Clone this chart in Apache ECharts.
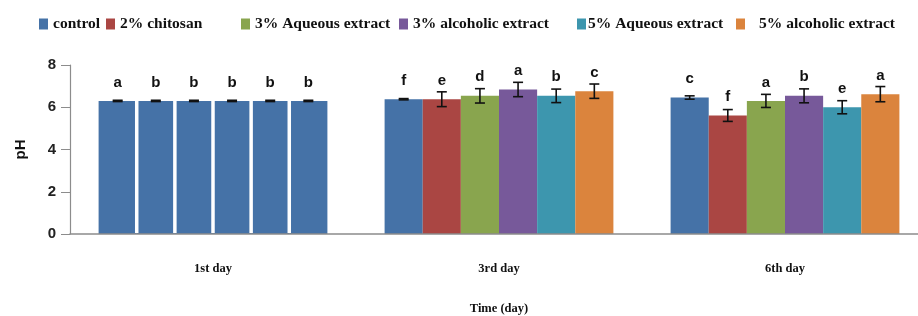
<!DOCTYPE html>
<html>
<head>
<meta charset="utf-8">
<script src="https://cdn.jsdelivr.net/npm/echarts@6/dist/echarts.min.js"></script>
<style>html,body{margin:0;padding:0;background:#fff}#c{width:918px;height:316px}</style>
</head>
<body>
<div id="c"></div>
<script>
const categories = ['1st day', '3rd day', '6th day'];
const seriesNames = ['control', '2% chitosan', '3% Aqueous extract', '3% alcoholic extract', '5% Aqueous extract', '5% alcoholic extract'];
const control     = [6.30, 6.38, 6.46];
const chitosan2   = [6.30, 6.38, 5.61];
const aqueous3    = [6.30, 6.54, 6.30];
const alcoholic3  = [6.30, 6.84, 6.54];
const aqueous5    = [6.30, 6.54, 6.00];
const alcoholic5  = [6.30, 6.76, 6.62];
const errControl    = [0.03, 0.03, 0.08];
const errChitosan2  = [0.03, 0.35, 0.28];
const errAqueous3   = [0.03, 0.34, 0.31];
const errAlcoholic3 = [0.03, 0.34, 0.33];
const errAqueous5   = [0.03, 0.32, 0.31];
const errAlcoholic5 = [0.03, 0.34, 0.36];
const lettersControl    = ['a', 'f', 'c'];
const lettersChitosan2  = ['b', 'e', 'f'];
const lettersAqueous3   = ['b', 'd', 'a'];
const lettersAlcoholic3 = ['b', 'a', 'b'];
const lettersAqueous5   = ['b', 'b', 'e'];
const lettersAlcoholic5 = ['b', 'c', 'a'];
const yTicks = [0, 8, 2];

const values = [control, chitosan2, aqueous3, alcoholic3, aqueous5, alcoholic5];
const errors = [errControl, errChitosan2, errAqueous3, errAlcoholic3, errAqueous5, errAlcoholic5];
const letters = [lettersControl, lettersChitosan2, lettersAqueous3, lettersAlcoholic3, lettersAqueous5, lettersAlcoholic5];
const colors = ['#4572A7', '#AA4643', '#89A54E', '#77599A', '#3D96AE', '#DB843D'];
const NS = seriesNames.length;
const CAT_GAP = 0.2;

const chart = echarts.init(document.getElementById('c'), null, {renderer: 'canvas'});

const series = [];
values.forEach((vals, s) => {
  series.push({
    type: 'bar',
    name: seriesNames[s],
    barGap: '0%',
    barCategoryGap: '20%',
    itemStyle: {color: colors[s]},
    data: vals.map((v, i) => i === 0 ? {value: v, itemStyle: {color: colors[0]}} : {value: v}),
    label: {
      show: true, position: 'top', distance: 11,
      formatter: p => letters[s][p.dataIndex],
      fontFamily: 'Liberation Sans', fontWeight: 'bold', fontSize: 15, color: '#111'
    },
    z: 2
  });
});
values.forEach((vals, s) => {
  series.push({
    type: 'custom',
    name: seriesNames[s] + ' err',
    z: 5,
    silent: true,
    data: vals.map((v, i) => [i, v, errors[s][i]]),
    renderItem: (params, api) => {
      const cat = api.value(0), v = api.value(1), e = api.value(2);
      const band = api.size([1, 0])[0];
      const groupW = band * (1 - CAT_GAP);
      const barW = groupW / NS;
      const c = api.coord([cat, v]);
      const left = c[0] - groupW / 2 + barW * s;
      const x = left + barW / 2;
      const yHi = api.coord([cat, v + e])[1];
      const yLo = api.coord([cat, v - e])[1];
      const y0 = api.coord([cat, 0])[1];
      const cap = 5;
      const st = {stroke: '#111', lineWidth: 1.6};
      const children = [];
      if (cat === 0 && s > 0) {
        children.push({type: 'line', z2: 1, shape: {x1: left, y1: c[1] - 1, x2: left, y2: y0 - 1}, style: {stroke: '#ffffff', lineWidth: 3.5}});
      }
      children.push(
        {type: 'line', z2: 2, shape: {x1: x, y1: yHi, x2: x, y2: yLo}, style: st},
        {type: 'line', z2: 2, shape: {x1: x - cap, y1: yHi, x2: x + cap, y2: yHi}, style: st},
        {type: 'line', z2: 2, shape: {x1: x - cap, y1: yLo, x2: x + cap, y2: yLo}, style: st}
      );
      return {type: 'group', children: children};
    }
  });
});

const legendLefts = [39, 106, 241, 399, 577, 736];
const legends = seriesNames.map((n, s) => ({
  data: [n], left: legendLefts[s], top: 16, icon: 'rect', itemWidth: 9, itemHeight: 11,
  padding: 0, selectedMode: false,
  textStyle: {fontFamily: 'Liberation Serif', fontWeight: 'bold', fontSize: 15.5, color: '#111',
    padding: s === 5 ? [0, 0, 0, 9] : (s === 4 ? [0, 0, 0, -3] : 0)}
}));

chart.setOption({
  animation: false,
  backgroundColor: '#ffffff',
  legend: legends,
  grid: {left: 70, top: 65, height: 169, width: 858, outerBoundsMode: 'none', containLabel: false},
  xAxis: {
    type: 'category', data: categories, z: 6,
    axisLine: {show: true, lineStyle: {color: '#8c8c8c', width: 1.5}},
    axisTick: {show: false},
    axisLabel: {margin: 28, fontFamily: 'Liberation Serif', fontWeight: 'bold', fontSize: 12.5, color: '#111'},
    name: 'Time (day)', nameLocation: 'middle', nameGap: 68,
    nameTextStyle: {fontFamily: 'Liberation Serif', fontWeight: 'bold', fontSize: 12.5, color: '#111'}
  },
  yAxis: {
    type: 'value', min: yTicks[0], max: yTicks[1], interval: yTicks[2],
    axisLine: {show: true, lineStyle: {color: '#8c8c8c', width: 1.2}},
    axisTick: {show: true, length: 9, lineStyle: {color: '#8c8c8c'}},
    splitLine: {show: false},
    axisLabel: {margin: 14, fontFamily: 'Liberation Sans', fontWeight: 'bold', fontSize: 15, color: '#222'},
    name: 'pH', nameLocation: 'middle', nameGap: 42, nameRotate: 90,
    nameTextStyle: {fontFamily: 'Liberation Sans', fontWeight: 'bold', fontSize: 15, color: '#111'}
  },
  series: series
});
</script>
</body>
</html>
